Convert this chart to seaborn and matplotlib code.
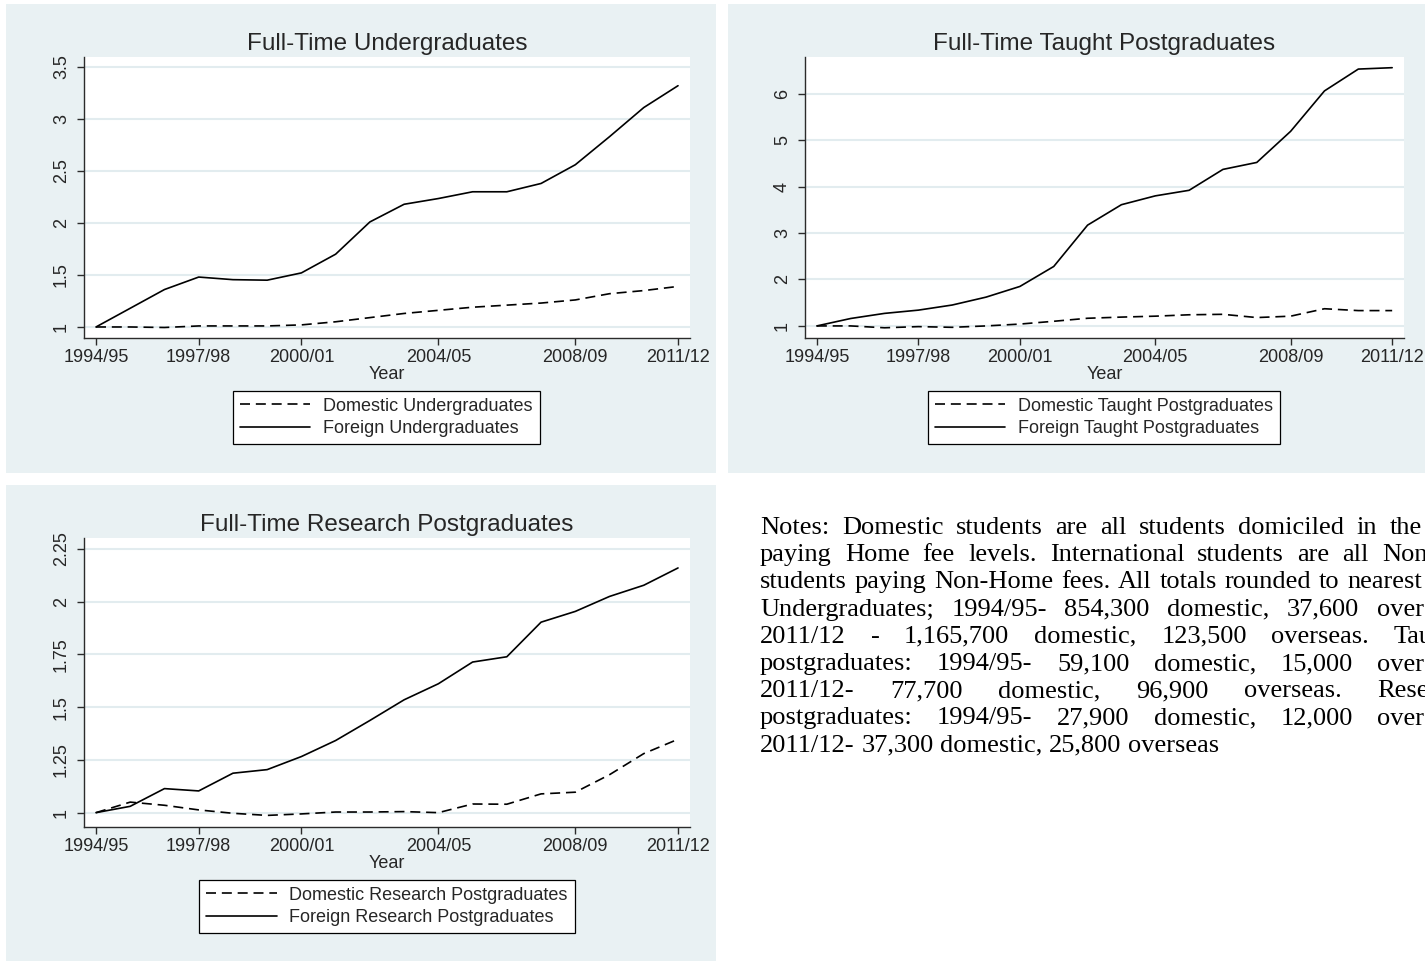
import numpy as np
import pandas as pd
import seaborn as sns
import matplotlib.pyplot as plt
from matplotlib.patches import Rectangle

# data (index relative to 1994/95)
years = ['1994/95', '1995/96', '1996/97', '1997/98', '1998/99', '1999/00',
         '2000/01', '2001/02', '2002/03', '2003/04', '2004/05', '2005/06',
         '2006/07', '2007/08', '2008/09', '2009/10', '2010/11', '2011/12']
tick_years = ['1994/95', '1997/98', '2000/01', '2004/05', '2008/09', '2011/12']

ug_domestic = [1.00, 1.00, 0.995, 1.01, 1.01, 1.01, 1.02, 1.05, 1.09, 1.13,
               1.16, 1.19, 1.21, 1.23, 1.26, 1.32, 1.35, 1.39]
ug_foreign = [1.00, 1.18, 1.36, 1.48, 1.455, 1.45, 1.52, 1.70, 2.01, 2.18,
              2.235, 2.30, 2.30, 2.38, 2.56, 2.83, 3.11, 3.32]

tpg_domestic = [1.00, 1.00, 0.96, 0.985, 0.97, 1.00, 1.04, 1.10, 1.165, 1.19,
                1.21, 1.24, 1.25, 1.18, 1.21, 1.37, 1.33, 1.33]
tpg_foreign = [1.00, 1.16, 1.27, 1.34, 1.45, 1.62, 1.85, 2.28, 3.17, 3.61,
               3.80, 3.92, 4.37, 4.52, 5.19, 6.06, 6.53, 6.56]

rpg_domestic = [1.00, 1.05, 1.035, 1.013, 0.997, 0.987, 0.994, 1.003, 1.003,
                1.005, 1.00, 1.041, 1.04, 1.089, 1.097, 1.18, 1.28, 1.348]
rpg_foreign = [1.00, 1.03, 1.114, 1.103, 1.187, 1.204, 1.266, 1.342, 1.437,
               1.535, 1.611, 1.714, 1.739, 1.903, 1.954, 2.025, 2.078, 2.16]

notes_lines = [
    'Notes: Domestic students are all students domiciled in the',
    'paying Home fee levels. International students are all Non-UK',
    'students paying Non-Home fees. All totals rounded to nearest',
    'Undergraduates; 1994/95- 854,300 domestic, 37,600 overseas,',
    '2011/12 - 1,165,700 domestic, 123,500 overseas. Taught',
    'postgraduates: 1994/95- 59,100 domestic, 15,000 overseas,',
    '2011/12- 77,700 domestic, 96,900 overseas. Research',
    'postgraduates: 1994/95- 27,900 domestic, 12,000 overseas,',
    '2011/12- 37,300 domestic, 25,800 overseas',
]
# (last visible word, x in px, whether x is that word's start or end)
notes_anchor = [('the', 1422, 'end'), ('Non-UK', 1382, 'start'),
                ('nearest', 1422, 'end'), ('overseas,', 1377, 'start'),
                ('Taught', 1394, 'start'), ('overseas,', 1377, 'start'),
                ('Research', 1377, 'start'), ('overseas,', 1377, 'start'), None]

sns.set_style('white')
plt.rcParams['font.family'] = ['Liberation Sans', 'DejaVu Sans']

W, H = 1425, 961
BG = '#e9f1f3'
fig = plt.figure(figsize=(W / 100, H / 100), dpi=100)
fig.patch.set_facecolor('white')


def fx(px):
    return px / W


def fy(py):
    return 1 - py / H


for x0, y0, x1, y1 in [(6, 4, 716, 473), (728, 4, 1430, 473), (6, 485, 716, 965)]:
    fig.patches.append(Rectangle((fx(x0), fy(y1)), fx(x1) - fx(x0), fy(y0) - fy(y1),
                                 transform=fig.transFigure, facecolor=BG,
                                 edgecolor='none', zorder=-5))

panels = [
    dict(box=(84, 57, 690, 338), title='Full-Time Undergraduates',
         dom=ug_domestic, frg=ug_foreign,
         labels=('Domestic Undergraduates', 'Foreign Undergraduates'),
         yticks=[1, 1.5, 2, 2.5, 3, 3.5], ylabels=['1', '1.5', '2', '2.5', '3', '3.5'],
         ylim=(0.894, 3.596), leg=(386, 417.5)),
    dict(box=(805, 57, 1404, 338), title='Full-Time Taught Postgraduates',
         dom=tpg_domestic, frg=tpg_foreign,
         labels=('Domestic Taught Postgraduates', 'Foreign Taught Postgraduates'),
         yticks=[1, 2, 3, 4, 5, 6], ylabels=['1', '2', '3', '4', '5', '6'],
         ylim=(0.74, 6.79), leg=(1104, 417.5)),
    dict(box=(84, 538, 690, 827), title='Full-Time Research Postgraduates',
         dom=rpg_domestic, frg=rpg_foreign,
         labels=('Domestic Research Postgraduates', 'Foreign Research Postgraduates'),
         yticks=[1, 1.25, 1.5, 1.75, 2, 2.25],
         ylabels=['1', '1.25', '1.5', '1.75', '2', '2.25'],
         ylim=(0.932, 2.302), leg=(387, 906.5)),
]

idx = np.arange(len(years))
tick_pos = [years.index(y) for y in tick_years]

for p in panels:
    l, t, r, b = p['box']
    ax = fig.add_axes([fx(l), fy(b), fx(r) - fx(l), fy(t) - fy(b)])
    ax.set_facecolor('white')
    ax.grid(axis='y', color='#e2ecef', linewidth=1.5)
    ax.set_axisbelow(True)
    sns.lineplot(x=idx, y=p['dom'], ax=ax, color='black', linewidth=1.2,
                 linestyle=(0, (6, 3.5)), label=p['labels'][0])
    sns.lineplot(x=idx, y=p['frg'], ax=ax, color='black', linewidth=1.2,
                 label=p['labels'][1])
    ax.set_xlim(-0.35, 17.35)
    ax.set_ylim(*p['ylim'])
    ax.set_xticks(tick_pos)
    ax.set_xticklabels(tick_years, fontsize=13)
    ax.set_yticks(p['yticks'])
    ax.set_yticklabels(p['ylabels'], fontsize=13, rotation=90, va='center')
    ax.tick_params(axis='both', length=5, width=1, color='#2b2b2b',
                   direction='out', bottom=True, left=True)
    ax.tick_params(axis='y', pad=5)
    ax.tick_params(axis='x', pad=3)
    for s in ['top', 'right']:
        ax.spines[s].set_visible(False)
    for s in ['left', 'bottom']:
        ax.spines[s].set_color('#2b2b2b')
        ax.spines[s].set_linewidth(1)
    ax.set_xlabel('Year', fontsize=13, labelpad=0)
    ax.set_ylabel('')
    ax.set_title(p['title'], fontsize=17.5, pad=5)
    leg = ax.legend(loc='center', bbox_to_anchor=(fx(p['leg'][0]), fy(p['leg'][1])),
                    bbox_transform=fig.transFigure, fontsize=13, frameon=True,
                    fancybox=False, edgecolor='black', framealpha=1,
                    handlelength=3.9, handletextpad=0.7, labelspacing=0.3,
                    borderpad=0.4, borderaxespad=0)
    leg.get_frame().set_linewidth(0.9)

# justified notes text, placed word by word
renderer = fig.canvas.get_renderer()
note_kw = dict(fontsize=19, family=['Liberation Serif', 'DejaVu Serif'],
               color='black', va='baseline', ha='left')
probe = fig.text(0, 0, 'a a', **note_kw)
w_pair = probe.get_window_extent(renderer).width
probe.set_text('aa')
space_w = w_pair - probe.get_window_extent(renderer).width
probe.remove()

x0 = 760
base0 = 534
for i, (line, anchor) in enumerate(zip(notes_lines, notes_anchor)):
    words = line.split(' ')
    texts = [fig.text(0, 0, w, **note_kw) for w in words]
    widths = [tx.get_window_extent(renderer).width for tx in texts]
    if anchor is None:
        gap = space_w
    else:
        word, ax_x, kind = anchor
        k = len(words) - 1 - words[::-1].index(word)
        start = ax_x - widths[k] if kind == 'end' else ax_x
        gap = (start - x0 - sum(widths[:k])) / k
    x = x0
    yb = base0 + i * 27.2
    for tx, w in zip(texts, widths):
        tx.set_position((fx(x), fy(yb)))
        x += w + gap

fig.savefig('out.png', dpi=100)
